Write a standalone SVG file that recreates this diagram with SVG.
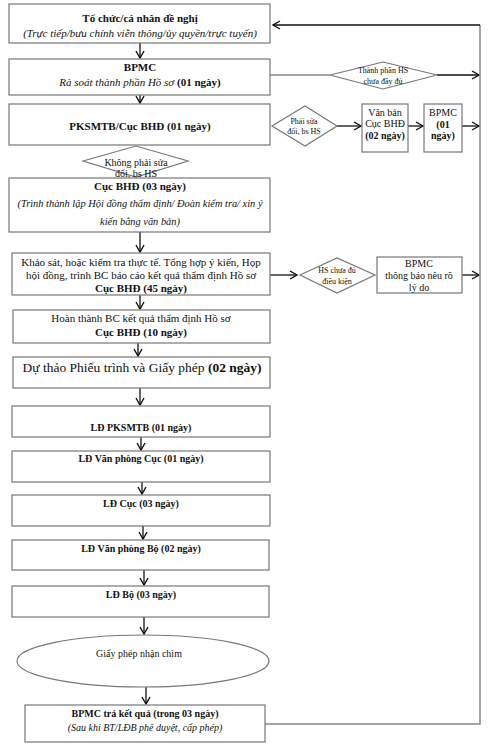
<svg xmlns="http://www.w3.org/2000/svg" width="488" height="752" viewBox="0 0 488 752">
<defs>
<marker id="ah" markerUnits="userSpaceOnUse" markerWidth="10" markerHeight="10" refX="8" refY="5" orient="auto">
<path d="M1,1 L8,5 L1,9" fill="none" stroke="#111" stroke-width="1.4"/>
</marker>
</defs>
<style>
text{font-family:"Liberation Serif","Times New Roman",serif;fill:#111;text-anchor:middle;dominant-baseline:central}
.b{font-weight:bold}
.i{font-style:italic}
.box{fill:#fff;stroke:#777;stroke-width:1.2}
.c{fill:none;stroke:#111;stroke-width:1.3}
.g{fill:none;stroke:#888;stroke-width:1.5}
.t11{font-size:11px}
.t10{font-size:10px}
.t9{font-size:9px}
.t8{font-size:8px}
</style>
<rect width="488" height="752" fill="#fff"/>
<g id="connectors">
<line class="c" x1="140" y1="43" x2="140" y2="58" marker-end="url(#ah)"/>
<line class="c" x1="140" y1="95" x2="140" y2="103" marker-end="url(#ah)"/>
<line class="g" x1="270" y1="75" x2="330" y2="75"/>
<line class="c" x1="437" y1="75" x2="479" y2="75" marker-end="url(#ah)"/>
<line class="c" x1="337" y1="126" x2="361" y2="126" marker-end="url(#ah)"/>
<line class="c" x1="408" y1="126" x2="423" y2="126" marker-end="url(#ah)"/>
<line class="c" x1="462" y1="126" x2="479" y2="126" marker-end="url(#ah)"/>
<line class="c" x1="140" y1="232" x2="140" y2="252" marker-end="url(#ah)"/>
<line class="c" x1="270" y1="275" x2="297" y2="275" marker-end="url(#ah)"/>
<line class="c" x1="462" y1="275" x2="479" y2="275" marker-end="url(#ah)"/>
<line class="c" x1="140" y1="295" x2="140" y2="309" marker-end="url(#ah)"/>
<line class="c" x1="138" y1="343" x2="138" y2="356" marker-end="url(#ah)"/>
<line class="c" x1="140" y1="388" x2="140" y2="405" marker-end="url(#ah)"/>
<line class="c" x1="141" y1="437" x2="141" y2="450" marker-end="url(#ah)"/>
<line class="c" x1="142" y1="482" x2="142" y2="494" marker-end="url(#ah)"/>
<line class="c" x1="143" y1="526" x2="143" y2="539" marker-end="url(#ah)"/>
<line class="c" x1="144" y1="570" x2="144" y2="585" marker-end="url(#ah)"/>
<line class="c" x1="144" y1="617" x2="144" y2="634" marker-end="url(#ah)"/>
<line class="c" x1="146" y1="687" x2="146" y2="704" marker-end="url(#ah)"/>
<polyline class="g" points="265,724 480,724 480,25"/>
<line class="c" x1="480" y1="25" x2="273" y2="25" marker-end="url(#ah)"/>
</g>
<g id="n1">
<rect class="box" x="9" y="4" width="261" height="39"/>
<text class="b t11" x="140" y="18">Tổ chức/cá nhân đề nghị</text>
<text class="i t11" x="140" y="33">(Trực tiếp/bưu chính viễn thông/ủy quyền/trực tuyến)</text>
</g>
<g id="n2">
<rect class="box" x="9" y="59" width="261" height="36"/>
<text class="b t11" x="140" y="67">BPMC</text>
<text class="t11" x="140" y="82"><tspan class="i">Rà soát thành phần Hồ sơ </tspan><tspan class="b">(01 ngày)</tspan></text>
</g>
<g id="d1">
<polygon class="box" points="330,75 383,62 437,75 383,89"/>
<text class="t8" x="383" y="70">Thành phần HS</text>
<text class="t8" x="383" y="81">chưa đầy đủ</text>
</g>
<g id="n3">
<rect class="box" x="9" y="104" width="261" height="41"/>
<text class="b t11" x="140" y="126">PKSMTB/Cục BHĐ (01 ngày)</text>
</g>
<g id="d2">
<polygon class="box" points="272,126 305,106 337,126 305,146"/>
<text class="t8" x="304" y="121">Phải sửa</text>
<text class="t8" x="304" y="131">đổi, bs HS</text>
</g>
<g id="n4">
<rect class="box" x="362" y="104" width="46" height="48"/>
<text class="t10" x="385" y="112">Văn bản</text>
<text class="t10" x="385" y="123">Cục BHĐ</text>
<text class="b t10" x="385" y="135">(02 ngày)</text>
</g>
<g id="n5">
<rect class="box" x="424" y="104" width="38" height="48"/>
<text class="t10" x="443" y="112">BPMC</text>
<text class="b t10" x="443" y="124">(01</text>
<text class="b t10" x="443" y="135">ngày)</text>
</g>
<g id="d3">
<polygon class="box" points="83,161 136,146 188,161 136,177"/>
<text class="t10" x="136" y="162">Không phải sửa</text>
<text class="t10" x="136" y="173">đổi, bs HS</text>
</g>
<g id="n6">
<rect class="box" x="9" y="178" width="261" height="54"/>
<text class="b t11" x="140" y="186">Cục BHĐ (03 ngày)</text>
<text class="i" x="140" y="203" style="font-size:10.4px">(Trình thành lập Hội đồng thẩm định/ Đoàn kiểm tra/ xin ý</text>
<text class="i" x="140" y="221" style="font-size:10.4px">kiến bằng văn bản)</text>
</g>
<g id="n7">
<rect class="box" x="12" y="253" width="258" height="42"/>
<text class="t11" x="141" y="262">Khảo sát, hoặc kiểm tra thực tế. Tổng hợp ý kiến, Họp</text>
<text class="t11" x="141" y="275">hội đồng, trình BC báo cáo kết quả thẩm định Hồ sơ</text>
<text class="b t11" x="141" y="288">Cục BHĐ (45 ngày)</text>
</g>
<g id="d4">
<polygon class="box" points="300,275 337,258 375,275 337,293"/>
<text class="t8" x="337" y="270">HS chưa đủ</text>
<text class="t8" x="337" y="281">điều kiện</text>
</g>
<g id="n8">
<rect class="box" x="377" y="257" width="85" height="36"/>
<text class="t10" x="419" y="263">BPMC</text>
<text class="t10" x="419" y="275">thông báo nêu rõ</text>
<text class="t10" x="419" y="287">lý do</text>
</g>
<g id="n9">
<rect class="box" x="13" y="310" width="257" height="33"/>
<text class="t11" x="141" y="318">Hoàn thành BC kết quả thẩm định Hồ sơ</text>
<text class="b t11" x="141" y="332">Cục BHĐ (10 ngày)</text>
</g>
<g id="n10">
<rect class="box" x="13" y="357" width="257" height="31"/>
<text x="142" y="367" style="font-size:13.5px">Dự thảo Phiếu trình và Giấy phép <tspan class="b">(02 ngày)</tspan></text>
</g>
<g id="n11">
<rect class="box" x="12" y="406" width="258" height="31"/>
<text class="b t10" x="141" y="427">LĐ PKSMTB (01 ngày)</text>
</g>
<g id="n12">
<rect class="box" x="12" y="451" width="258" height="31"/>
<text class="b t10" x="141" y="458">LĐ Văn phòng Cục (01 ngày)</text>
</g>
<g id="n13">
<rect class="box" x="12" y="495" width="258" height="31"/>
<text class="b t10" x="141" y="503">LĐ Cục (03 ngày)</text>
</g>
<g id="n14">
<rect class="box" x="12" y="540" width="257" height="30"/>
<text class="b t10" x="141" y="548">LĐ Văn phòng Bộ (02 ngày)</text>
</g>
<g id="n15">
<rect class="box" x="12" y="586" width="257" height="31"/>
<text class="b t10" x="141" y="594">LĐ Bộ (03 ngày)</text>
</g>
<g id="n16">
<ellipse class="box" cx="143" cy="661" rx="126" ry="26"/>
<text class="t10" x="139" y="653">Giấy phép nhận chìm</text>
</g>
<g id="n17">
<rect class="box" x="25" y="705" width="240" height="37"/>
<text class="b t10" x="145" y="713">BPMC trả kết quả (trong 03 ngày)</text>
<text class="i t10" x="145" y="727">(Sau khi BT/LĐB phê duyệt, cấp phép)</text>
</g>
</svg>
